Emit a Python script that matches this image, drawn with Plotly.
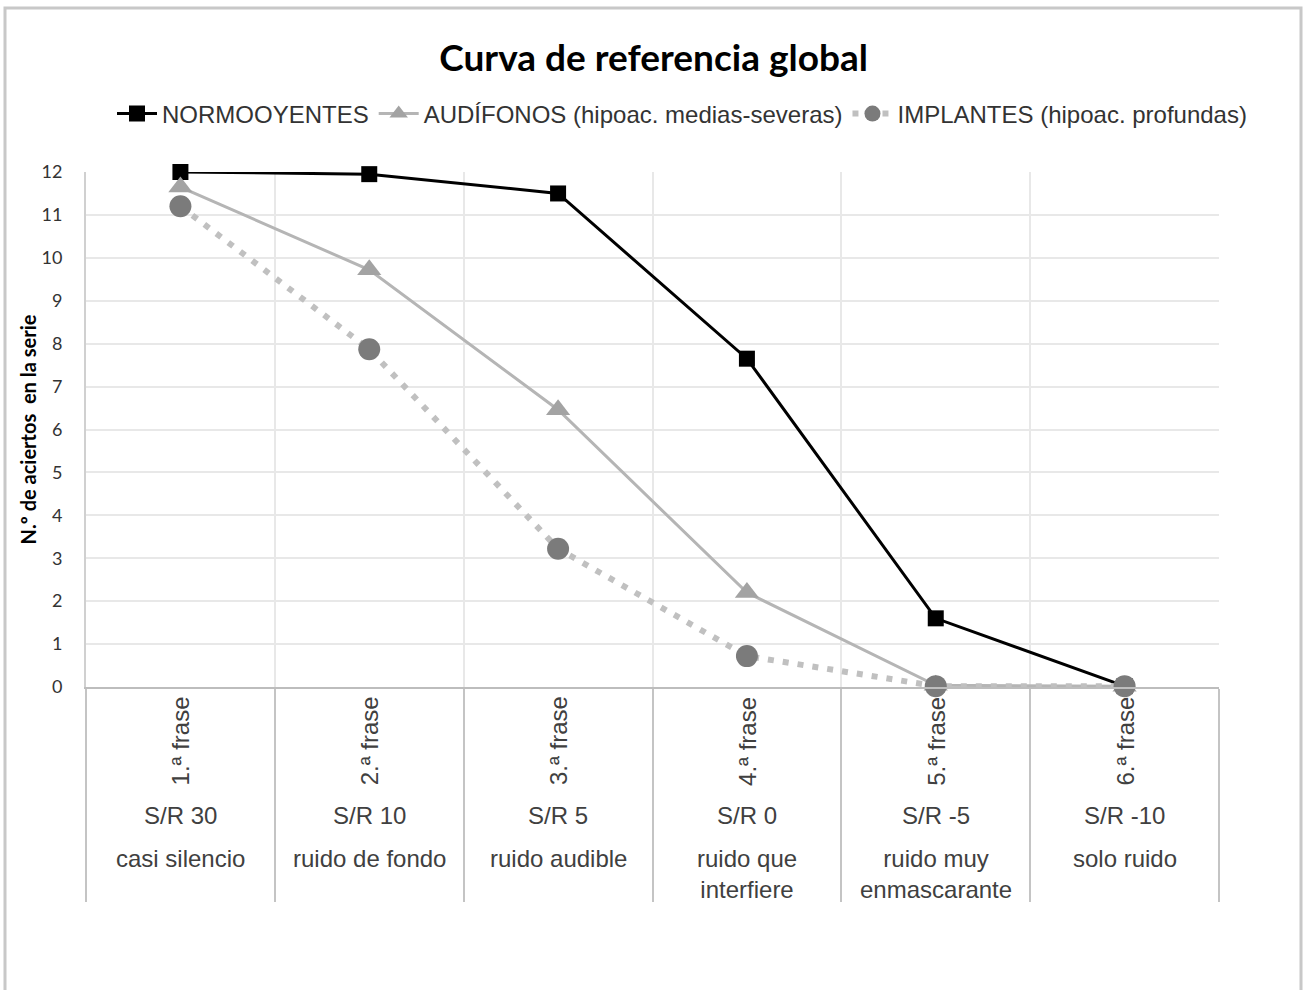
import plotly.graph_objects as go

# ---------------- data ----------------
frase_labels = ["1.ª frase", "2.ª frase", "3.ª frase", "4.ª frase", "5.ª frase", "6.ª frase"]
sr_labels = ["S/R 30", "S/R 10", "S/R 5", "S/R 0", "S/R -5", "S/R -10"]
ruido_labels = ["casi silencio", "ruido de fondo", "ruido audible",
                "ruido que<br>interfiere", "ruido muy<br>enmascarante", "solo ruido"]

normo = [12.0, 11.95, 11.5, 7.65, 1.6, 0.02]
audif = [11.65, 9.72, 6.46, 2.2, 0.04, 0.02]
implan = [11.2, 7.87, 3.22, 0.72, 0.02, 0.02]

y_ticks = list(range(0, 13))

title_text = "Curva de referencia global"
y_title = "N.º de aciertos  en la serie"
series_names = ["NORMOOYENTES", "AUDÍFONOS (hipoac. medias-severas)", "IMPLANTES (hipoac. profundas)"]

# ---------------- layout geometry (pixels) ----------------
W, H = 1306, 990
PL, PR, PT, PB = 86, 1219, 172, 687   # plot area edges
pw, ph = PR - PL, PB - PT

def py(p):   # pixel y -> paper y
    return (PB - p) / ph

def px(p):   # pixel x -> paper x
    return (p - PL) / pw

AX_FONT = "Liberation Sans, Arial, sans-serif"
TXT = "#404040"

fig = go.Figure()
fig.add_trace(go.Scatter(
    x=frase_labels, y=normo, name=series_names[0], mode="lines+markers",
    line=dict(color="#000000", width=3),
    marker=dict(symbol="square", size=16, color="#000000"),
    cliponaxis=False))
fig.add_trace(go.Scatter(
    x=frase_labels, y=audif, name=series_names[1], mode="lines+markers",
    line=dict(color="#b5b5b5", width=3),
    marker=dict(symbol="triangle-up", size=21, color="#a3a3a3"),
    cliponaxis=False))
fig.add_trace(go.Scatter(
    x=frase_labels, y=implan, name=series_names[2], mode="lines+markers",
    line=dict(color="#c0c0c0", width=6, dash="6px,9px"),
    marker=dict(symbol="circle", size=22, color="#7b7b7b"),
    cliponaxis=False))

annotations = []
for i in range(len(frase_labels)):
    annotations.append(dict(x=frase_labels[i], xref="x", y=py(741), yref="paper",
                            text=frase_labels[i], textangle=-90, showarrow=False,
                            xanchor="center", yanchor="middle",
                            font=dict(family=AX_FONT, size=24, color=TXT)))
    annotations.append(dict(x=frase_labels[i], xref="x", y=py(815), yref="paper",
                            text=sr_labels[i], showarrow=False,
                            xanchor="center", yanchor="middle",
                            font=dict(family=AX_FONT, size=24, color=TXT)))
    annotations.append(dict(x=frase_labels[i], xref="x", y=py(843), yref="paper",
                            text=ruido_labels[i], showarrow=False,
                            xanchor="center", yanchor="top",
                            font=dict(family=AX_FONT, size=24, color=TXT)))

fig.update_layout(
    width=W, height=H, autosize=False,
    margin=dict(l=PL, r=W - PR, t=PT, b=H - PB, autoexpand=False),
    paper_bgcolor="white", plot_bgcolor="white",
    title=dict(text=title_text, x=px(653), xanchor="center", y=1 - 58 / H, yanchor="middle",
               font=dict(family="Lato, sans-serif", size=37, color="#000000", weight="bold")),
    legend=dict(orientation="h", x=px(1252), xanchor="right", y=py(114), yanchor="middle",
                font=dict(family=AX_FONT, size=24, color="#333333"),
                bgcolor="rgba(0,0,0,0)", itemwidth=40, tracegroupgap=0),
    xaxis=dict(type="category", range=[-0.5, 5.5], tickson="boundaries",
               ticks="outside", ticklen=900 - PB, tickcolor="#c4c4c4", tickwidth=2,
               showticklabels=False, showgrid=True, gridcolor="#e8e8e8", gridwidth=2,
               showline=True, linecolor="#bdbdbd", linewidth=2, zeroline=False,
               fixedrange=True),
    yaxis=dict(range=[0, 12], tickvals=y_ticks, ticktext=[str(v) for v in y_ticks],
               showgrid=True, gridcolor="#e8e8e8", gridwidth=2, zeroline=False,
               showline=True, linecolor="#d0d0d0", linewidth=2,
               ticks="", ticklabelstandoff=18,
               tickfont=dict(family="Lato, sans-serif", size=18, color="#333333"),
               title=dict(text=y_title, standoff=0,
                          font=dict(family="Lato, sans-serif", size=20, color="#000000", weight="bold"))),
    annotations=annotations,
    shapes=[dict(type="rect", xref="paper", yref="paper",
                 x0=px(5), x1=px(1301), y0=py(1010), y1=py(8),
                 line=dict(color="#c8c8c8", width=3), fillcolor="rgba(0,0,0,0)", layer="below")],
)

fig.write_html("out.html", config={"displayModeBar": False},
               post_script="document.body.style.margin='0px';")
